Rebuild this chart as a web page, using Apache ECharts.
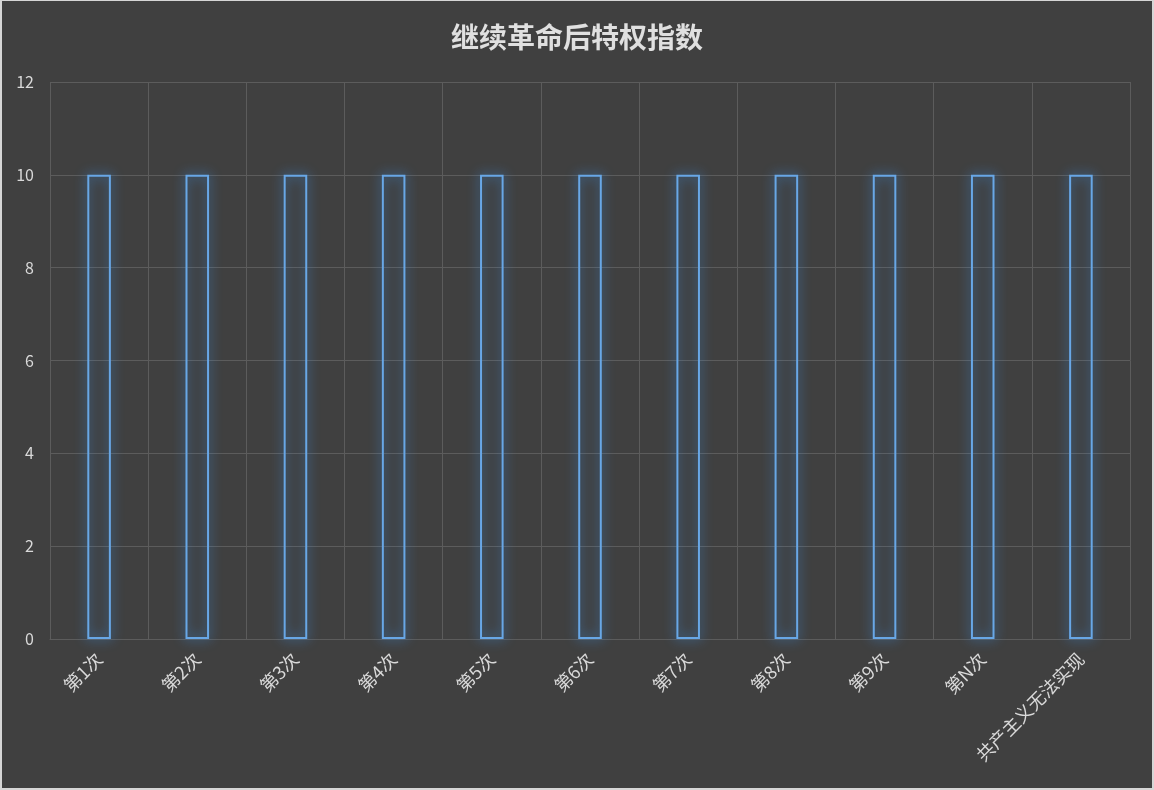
<!DOCTYPE html>
<html>
<head>
<meta charset="utf-8">
<script src="https://cdn.jsdelivr.net/npm/echarts@6/dist/echarts.min.js"></script>
<style>
html,body{margin:0;padding:0;background:#d6d6d6;}
#c{position:absolute;left:2px;top:1px;width:1150px;height:787px;background:#404040;}
</style>
</head>
<body>
<div id="c"></div>
<script>
const titleText = '继续革命后特权指数';
const categories = ['第1次','第2次','第3次','第4次','第5次','第6次','第7次','第8次','第9次','第N次','共产主义无法实现'];
const values = [10,10,10,10,10,10,10,10,10,10,10];
const yTicks = {min:0, max:12, interval:2};

const chart = echarts.init(document.getElementById('c'));
const textColor = '#d9d9d9';
const gridColor = '#5c5c5c';
const font = '"Noto Sans CJK SC", "Noto Sans", sans-serif';
chart.setOption({
  backgroundColor: '#404040',
  animation: false,
  title: {
    text: titleText, left: 'center', top: 17,
    textStyle: {color: '#e0e0e0', fontSize: 28, fontWeight: 'bold', fontFamily: font}
  },
  grid: {left: 48, right: 22, top: 81, bottom: 149},
  xAxis: {
    type: 'category', data: categories, boundaryGap: true,
    axisLine: {show: true, lineStyle: {color: gridColor, width: 1}},
    axisTick: {show: false},
    splitLine: {show: true, lineStyle: {color: gridColor, width: 1}},
    axisLabel: {color: textColor, fontSize: 18, rotate: 45, margin: 17, interval: 0, fontFamily: font}
  },
  yAxis: {
    type: 'value', min: yTicks.min, max: yTicks.max, interval: yTicks.interval,
    axisLine: {show: false}, axisTick: {show: false},
    splitLine: {show: true, lineStyle: {color: gridColor, width: 1}},
    axisLabel: {color: textColor, fontSize: 16, margin: 16, fontFamily: font}
  },
  series: [{
    type: 'bar', data: values, barWidth: '24%',
    itemStyle: {
      color: 'rgba(0,0,0,0)',
      borderColor: '#68a7e6', borderWidth: 2,
      shadowBlur: 12, shadowColor: 'rgba(60,150,240,1)'
    }
  }]
});
</script>
</body>
</html>
